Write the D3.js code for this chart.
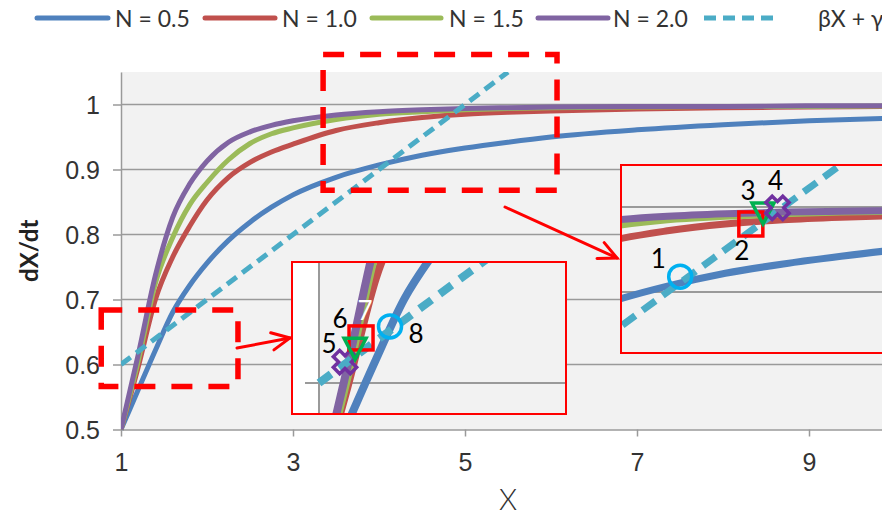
<!DOCTYPE html>
<html>
<head>
<meta charset="utf-8">
<script src="https://cdn.jsdelivr.net/npm/d3@7"></script>
<style>
  body { margin: 0; background: #fff; }
  svg { display: block; font-family: Lato, "Open Sans", sans-serif; }
</style>
</head>
<body>
<svg id="chart" width="882" height="516"></svg>
<script>
// ---- data ----
const xValues  = [1, 1.2, 1.4, 1.6, 1.8, 2, 2.25, 2.5, 2.75, 3, 3.5, 4, 4.5, 5, 5.5, 6, 7, 8, 9, 10];
const seriesN05 = [0.5, 0.561, 0.622, 0.680, 0.722, 0.756, 0.791, 0.819, 0.842, 0.861, 0.888, 0.907, 0.922, 0.933, 0.942, 0.950, 0.961, 0.969, 0.975, 0.979];
const seriesN10 = [0.5, 0.596, 0.700, 0.765, 0.813, 0.853, 0.888, 0.911, 0.927, 0.939, 0.960, 0.972, 0.980, 0.985, 0.988, 0.990, 0.993, 0.995, 0.996, 0.997];
const seriesN15 = [0.5, 0.605, 0.725, 0.795, 0.846, 0.880, 0.915, 0.940, 0.955, 0.964, 0.977, 0.985, 0.989, 0.992, 0.994, 0.995, 0.996, 0.997, 0.997, 0.998];
const seriesN20 = [0.5, 0.615, 0.737, 0.826, 0.878, 0.913, 0.942, 0.958, 0.968, 0.975, 0.984, 0.989, 0.992, 0.994, 0.995, 0.996, 0.997, 0.997, 0.998, 0.998];
const lineX = [1, 2, 3, 4, 5, 5.5];
const lineY = [0.6, 0.7, 0.8, 0.9, 1.0, 1.05];
const seriesNames = ["N = 0.5", "N = 1.0", "N = 1.5", "N = 2.0", "βX + γ"];
const xTicks = [1, 3, 5, 7, 9];
const yTicks = [0.5, 0.6, 0.7, 0.8, 0.9, 1];
// crossing points marked in the two enlarged views
const upperMarkX = [4.11, 4.72, 4.825, 4.95];
const upperMarkY = [0.918, 0.980, 0.994, 0.999];
const upperMarkLabels = ["1", "2", "3", "4"];
const lowerMarkX = [1.183, 1.296, 1.254, 1.50];
const lowerMarkY = [0.620, 0.643, 0.634, 0.654];
const lowerMarkLabels = ["5", "6", "7", "8"];
// highlighted regions [x0, x1, y0, y1]
const upperBox = [3.35, 6.07, 0.868, 1.077];
const lowerBox = [0.77, 2.36, 0.566, 0.684];

// ---- styling ----
const colors = ["#4F81BD", "#C0504D", "#9BBB59", "#8064A2", "#4BACC6"];
const gridColor = "#9a9a9a";
const textColor = "#333";
const markStyle = {
  circle:   "#00B0F0",
  square:   "#FF0000",
  triangle: "#00B050",
  cross:    "#7030A0"
};

const svg = d3.select("#chart");
const defs = svg.append("defs");

const x = d3.scaleLinear().domain([1, 10]).range([121, 895]);
const y = d3.scaleLinear().domain([0.5, 1.05]).range([429.5, 72]);

const curves = [seriesN05, seriesN10, seriesN15, seriesN20].map(vals =>
  xValues.map((xv, i) => [xv, vals[i]]));
const straight = lineX.map((xv, i) => [xv, lineY[i]]);

// plot background
svg.append("rect")
  .attr("x", x(1)).attr("y", y(1.05))
  .attr("width", x(10) - x(1)).attr("height", y(0.5) - y(1.05))
  .attr("fill", "#f2f2f2");

// gridlines
svg.append("g").selectAll("line").data(yTicks.filter(d => d > 0.5)).join("line")
  .attr("x1", x(1)).attr("x2", x(10))
  .attr("y1", d => y(d)).attr("y2", d => y(d))
  .attr("stroke", gridColor).attr("stroke-width", 1.5);

// axes
const yAxis = svg.append("g").attr("transform", `translate(${x(1)},0)`)
  .call(d3.axisLeft(y).tickValues(yTicks).tickSize(8).tickSizeOuter(0)
        .tickPadding(13).tickFormat(d3.format("")));
const xAxis = svg.append("g").attr("transform", `translate(0,${y(0.5)})`)
  .call(d3.axisBottom(x).tickValues(xTicks).tickSize(7).tickSizeOuter(0)
        .tickPadding(17).tickFormat(d3.format("")));
[yAxis, xAxis].forEach(a => {
  a.select(".domain").attr("stroke", gridColor).attr("stroke-width", 1.5);
  a.selectAll(".tick line").attr("stroke", gridColor).attr("stroke-width", 1.5);
  a.selectAll(".tick text").attr("fill", textColor).style("font-size", "25px");
});
yAxis.selectAll(".tick text").attr("dy", "0.36em");

// axis titles
svg.append("text")
  .attr("x", (x(1) + x(10)) / 2).attr("y", 510)
  .attr("text-anchor", "middle").attr("fill", textColor)
  .style("font-size", "29px").style("font-weight", 300)
  .text("X");
svg.append("text")
  .attr("transform", `translate(38,${(y(0.5) + y(1.05)) / 2}) rotate(-90)`)
  .attr("text-anchor", "middle").attr("fill", "#222")
  .style("font-size", "24px").style("font-weight", "bold")
  .text("dX/dt");

// series lines, shared between the main plot and the enlarged views
function drawSeries(g, xs, ys, lw, dash) {
  const line = d3.line().x(d => xs(d[0])).y(d => ys(d[1])).curve(d3.curveMonotoneX);
  curves.forEach((pts, i) => {
    g.append("path").attr("d", line(pts))
      .attr("fill", "none").attr("stroke", colors[i])
      .attr("stroke-width", lw).attr("stroke-linejoin", "round");
  });
  g.append("path").attr("d", d3.line().x(d => xs(d[0])).y(d => ys(d[1]))(straight))
    .attr("fill", "none").attr("stroke", colors[4])
    .attr("stroke-width", lw)
    .attr("stroke-dasharray", dash);
}

defs.append("clipPath").attr("id", "plotClip").append("rect")
  .attr("x", x(1)).attr("y", y(1.05))
  .attr("width", x(10) - x(1)).attr("height", y(0.5) - y(1.05) + 3);
drawSeries(svg.append("g").attr("clip-path", "url(#plotClip)"), x, y, 5, "12,7");

// dashed highlight boxes
[upperBox, lowerBox].forEach(b => {
  svg.append("rect")
    .attr("x", x(b[0])).attr("y", y(b[3]))
    .attr("width", x(b[1]) - x(b[0])).attr("height", y(b[2]) - y(b[3]))
    .attr("fill", "none").attr("stroke", "#FF0000")
    .attr("stroke-width", 5.5).attr("stroke-dasharray", "21,16");
});

// arrows from the boxes to their enlarged views
function arrow(x1, y1, x2, y2) {
  const g = svg.append("g").attr("stroke", "#FF0000").attr("stroke-width", 3)
    .attr("fill", "none").attr("stroke-linecap", "round");
  g.append("line").attr("x1", x1).attr("y1", y1).attr("x2", x2).attr("y2", y2);
  const ang = Math.atan2(y2 - y1, x2 - x1), len = 20, spread = 0.45;
  const head = [ang - spread, ang + spread].map(a => [x2 - len * Math.cos(a), y2 - len * Math.sin(a)]);
  g.append("path").attr("d", `M${head[0]}L${x2},${y2}L${head[1]}`).attr("stroke-linejoin", "miter");
}
arrow(505, 207, 617, 258);
arrow(237, 348, 290, 338);

// marker shapes
function markShape(g, kind, cx, cy) {
  const c = markStyle[kind];
  const s = g.append("g").attr("transform", `translate(${cx},${cy})`)
    .attr("fill", "none").attr("stroke", c).attr("stroke-width", 3.5);
  if (kind === "circle") s.append("circle").attr("r", 11.5);
  if (kind === "square") s.append("rect").attr("x", -12).attr("y", -12).attr("width", 24).attr("height", 24);
  if (kind === "triangle") s.append("path").attr("d", "M-11,-9L11,-9L0,12Z").attr("stroke-linejoin", "miter");
  if (kind === "cross") {
    const a = 4.5, L = 12;
    const p = [[-a,-L],[a,-L],[a,-a],[L,-a],[L,a],[a,a],[a,L],[-a,L],[-a,a],[-L,a],[-L,-a],[-a,-a]];
    s.append("path").attr("d", "M" + p.join("L") + "Z").attr("transform", "rotate(45)");
  }
}

// enlarged views
function drawInset(cfg) {
  const r = cfg.rect;
  defs.append("clipPath").attr("id", cfg.id).append("rect")
    .attr("x", r[0]).attr("y", r[1]).attr("width", r[2]).attr("height", r[3]);
  const g = svg.append("g");
  const inner = g.append("g").attr("clip-path", `url(#${cfg.id})`);
  inner.append("rect").attr("x", r[0]).attr("y", r[1]).attr("width", r[2]).attr("height", r[3])
    .attr("fill", "#fff");
  const bgLeft = cfg.axis ? cfg.xs(1) : r[0];
  inner.append("rect").attr("x", bgLeft).attr("y", r[1])
    .attr("width", r[0] + r[2] - bgLeft).attr("height", r[3]).attr("fill", "#f2f2f2");
  cfg.grid.forEach(v => {
    inner.append("line")
      .attr("x1", cfg.axis ? cfg.xs(1) - 14 : r[0]).attr("x2", r[0] + r[2])
      .attr("y1", cfg.ys(v)).attr("y2", cfg.ys(v))
      .attr("stroke", gridColor).attr("stroke-width", 2);
  });
  if (cfg.axis) {
    inner.append("line").attr("x1", cfg.xs(1)).attr("x2", cfg.xs(1))
      .attr("y1", r[1]).attr("y2", r[1] + r[3])
      .attr("stroke", gridColor).attr("stroke-width", 2);
  }
  drawSeries(inner, cfg.xs, cfg.ys, cfg.lw, cfg.dash);
  cfg.mx.forEach((mx, i) => markShape(inner, cfg.shapes[i], cfg.xs(mx), cfg.ys(cfg.my[i])));
  cfg.mx.forEach((mx, i) => {
    inner.append("text")
      .attr("x", cfg.xs(mx) + cfg.labelOffsets[i][0])
      .attr("y", cfg.ys(cfg.my[i]) + cfg.labelOffsets[i][1])
      .attr("text-anchor", "middle")
      .attr("fill", cfg.labelColors[i])
      .style("font-size", "26px")
      .text(cfg.labels[i]);
  });
  g.append("rect").attr("x", r[0]).attr("y", r[1]).attr("width", r[2]).attr("height", r[3])
    .attr("fill", "none").attr("stroke", "#FF0000").attr("stroke-width", 2);
}

drawInset({
  id: "upperClip",
  rect: [621, 165, 290, 188],
  xs: d3.scaleLinear().domain([3.59, 5.49]).range([620, 840]),
  ys: d3.scaleLinear().domain([0.9, 1.0]).range([292, 207]),
  grid: [0.9, 1.0], axis: false, lw: 7, dash: "16,9",
  mx: upperMarkX, my: upperMarkY, labels: upperMarkLabels,
  shapes: ["circle", "square", "triangle", "cross"],
  labelOffsets: [[-22, -9], [-9, 36], [-15, -12], [-2, -18]],
  labelColors: ["#000", "#000", "#000", "#000"]
});

drawInset({
  id: "lowerClip",
  rect: [292, 262, 274, 152],
  xs: d3.scaleLinear().domain([1, 2]).range([319, 461]),
  ys: d3.scaleLinear().domain([0.6, 0.7]).range([383, 278.2]),
  grid: [0.6], axis: true, lw: 8, dash: "15,10",
  mx: lowerMarkX, my: lowerMarkY, labels: lowerMarkLabels,
  shapes: ["cross", "square", "triangle", "circle"],
  labelOffsets: [[-16, -9], [-21, -10], [10, -27], [26, 17]],
  labelColors: ["#000", "#000", "#fff", "#000"]
});

// legend
const legendLine = [[37, 108], [205, 275], [372, 441], [538, 608], [704, 774]];
const legendText = [115, 282, 449, 613, 818];
const legend = svg.append("g");
seriesNames.forEach((name, i) => {
  legend.append("line")
    .attr("x1", legendLine[i][0]).attr("x2", legendLine[i][1])
    .attr("y1", 18).attr("y2", 18)
    .attr("stroke", colors[i]).attr("stroke-width", 5)
    .attr("stroke-linecap", i === 4 ? "butt" : "round")
    .attr("stroke-dasharray", i === 4 ? "12,7" : null);
  legend.append("text")
    .attr("x", legendText[i]).attr("y", 27)
    .attr("fill", textColor).style("font-size", "23px")
    .text(name);
});
</script>
</body>
</html>
